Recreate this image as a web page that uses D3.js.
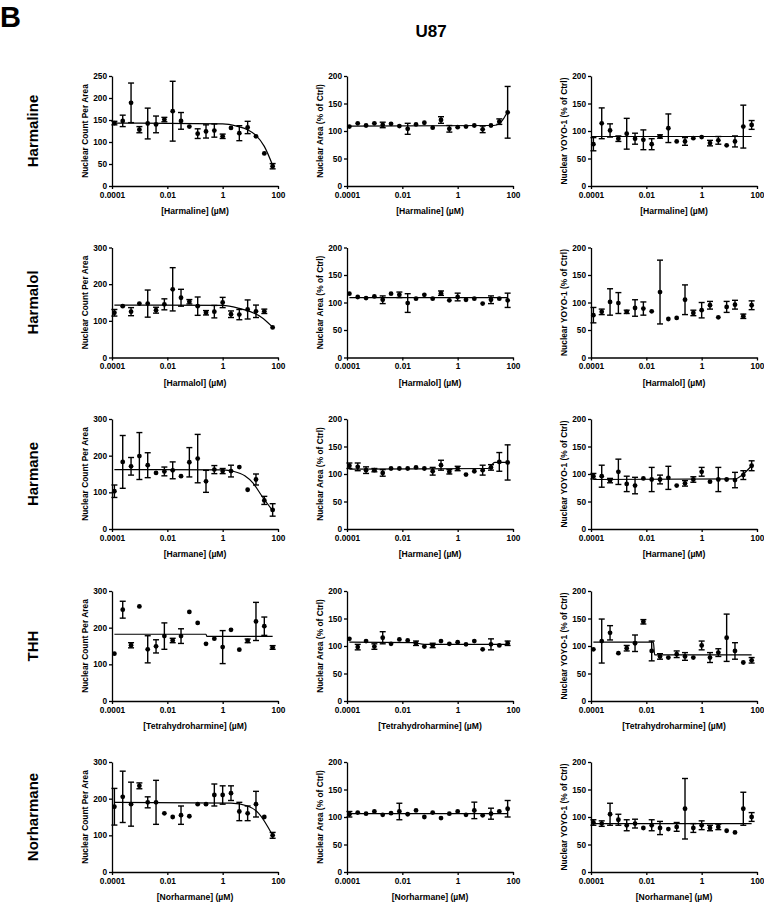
<!DOCTYPE html>
<html>
<head>
<meta charset="utf-8">
<script src="https://cdn.jsdelivr.net/npm/d3@7"></script>
<style>
  body { margin: 0; background: #fff; }
  svg text { font-family: "Liberation Sans", Arial, sans-serif; font-weight: bold; fill: #000; }
</style>
</head>
<body>
<div id="chart"></div>
<script>
// doses (uM), 2-fold dilution series
var doses = [0.0001220703125, 0.000244140625, 0.00048828125, 0.0009765625, 0.001953125,
  0.00390625, 0.0078125, 0.015625, 0.03125, 0.0625, 0.125, 0.25, 0.5, 1, 2, 4, 8, 16, 32, 64];

var compounds = ['Harmaline', 'Harmalol', 'Harmane', 'THH', 'Norharmane'];
var xNames = ['Harmaline', 'Harmalol', 'Harmane', 'Tetrahydroharmine', 'Norharmane'];
var measures = ['Nuclear Count Per Area', 'Nuclear Area (% of Ctrl)', 'Nuclear YOYO-1 (% of Ctrl)'];

var xTickValues = [0.0001, 0.01, 1, 100];
var xTickLabels = ['0.0001', '0.01', '1', '100'];
var countTicks = [[0, 50, 100, 150, 200, 250], [0, 100, 200, 300], [0, 100, 200, 300], [0, 100, 200, 300], [0, 100, 200, 300]];
var pctTicks = [0, 50, 100, 150, 200];

// nuclear count per area, one row per compound
var countMeans = [
  [143, 148, 189, 128, 142, 140, 151, 170, 148, 135, 119, 124, 126, 113, 132, 120, 133, 113, 74, 45],
  [122, 140, 125, 147, 147, 129, 145, 186, 163, 152, 140, 122, 125, 150, 118, 117, 131, 126, 126, 82],
  [103, 183, 171, 199, 174, 153, 157, 160, 144, 182, 192, 130, 162, 158, 158, 169, 107, 135, 78, 52],
  [129, 249, 152, 258, 141, 149, 177, 165, 177, 243, 213, 156, 170, 147, 194, 140, 164, 217, 204, 146],
  [178, 205, 185, 235, 190, 190, 160, 150, 155, 152, 185, 185, 210, 210, 215, 165, 160, 185, 150, 100]
];
var countErrs = [
  [4, 13, 45, 7, 35, 19, 5, 68, 19, 0, 11, 15, 15, 5, 0, 17, 14, 0, 0, 6],
  [9, 0, 11, 0, 37, 8, 15, 59, 23, 6, 25, 6, 17, 14, 9, 14, 26, 17, 6, 0],
  [17, 72, 24, 64, 34, 0, 12, 23, 0, 40, 66, 30, 11, 7, 16, 0, 0, 15, 11, 17],
  [0, 23, 7, 0, 37, 18, 36, 6, 20, 0, 0, 0, 0, 45, 0, 0, 5, 52, 25, 5],
  [50, 70, 60, 8, 15, 60, 0, 0, 25, 0, 0, 0, 30, 25, 20, 25, 20, 35, 0, 8]
];
var countFits = [
  [[0.000122, 143], [1, 141], [3.2, 136], [8, 128], [16, 115], [32, 90], [64, 47]],
  [[0.000122, 143], [1, 142], [4, 134], [10, 125], [25, 110], [64, 83]],
  [[0.000122, 162], [1, 161], [2.5, 157], [6.3, 145], [12.6, 125], [25, 92], [64, 50]],
  [[0.000122, 182], [0.25, 182], [0.27, 176], [64, 176]],
  [[0.000122, 190], [2, 188], [8, 180], [20, 160], [64, 100]]
];

// nuclear area (% of ctrl)
var areaMeans = [
  [108, 114, 110, 114, 111, 113, 109, 104, 112, 115, 106, 120, 104, 107, 108, 110, 103, 110, 117, 134],
  [116, 110, 108, 111, 105, 116, 114, 99, 107, 114, 107, 117, 104, 110, 105, 107, 98, 105, 107, 104],
  [115, 113, 107, 107, 102, 110, 110, 110, 112, 110, 105, 116, 104, 110, 99, 105, 107, 112, 122, 121],
  [113, 98, 109, 99, 115, 104, 112, 110, 105, 99, 101, 109, 104, 107, 103, 109, 94, 103, 101, 105],
  [105, 108, 106, 110, 104, 107, 110, 105, 112, 100, 108, 98, 106, 110, 104, 112, 103, 106, 110, 115]
];
var areaErrs = [
  [0, 0, 0, 0, 5, 0, 0, 10, 0, 0, 0, 6, 6, 0, 0, 0, 6, 0, 5, 47],
  [0, 0, 0, 0, 7, 0, 5, 17, 0, 0, 0, 4, 0, 7, 0, 0, 0, 7, 0, 13],
  [5, 7, 6, 3, 6, 0, 0, 0, 0, 0, 7, 9, 4, 4, 0, 0, 9, 5, 17, 32],
  [0, 5, 0, 5, 11, 0, 0, 0, 4, 0, 4, 0, 0, 0, 0, 0, 0, 10, 0, 4],
  [5, 0, 0, 0, 0, 0, 15, 0, 0, 0, 0, 0, 0, 0, 0, 15, 0, 10, 0, 15]
];
var areaFits = [
  [[0.000122, 109], [20, 110], [32, 113], [45, 122], [64, 135]],
  [[0.000122, 109], [64, 109]],
  [[0.000122, 109], [12.6, 110], [16, 115], [22, 121], [64, 121]],
  [[0.000122, 107], [0.025, 106], [0.063, 103], [64, 103]],
  [[0.000122, 106], [64, 106]]
];

// nuclear YOYO-1 (% of ctrl)
var yoyoMeans = [
  [76, 114, 101, 86, 95, 86, 84, 76, 90, 105, 81, 81, 87, 89, 78, 83, 74, 81, 108, 111],
  [77, 83, 101, 99, 83, 90, 89, 84, 119, 70, 72, 105, 81, 86, 95, 73, 92, 96, 75, 95],
  [96, 96, 88, 104, 82, 79, 92, 90, 90, 93, 79, 83, 90, 104, 86, 90, 90, 89, 98, 115],
  [94, 109, 124, 87, 96, 105, 144, 91, 81, 79, 85, 81, 79, 101, 79, 88, 115, 91, 70, 74],
  [90, 88, 105, 95, 85, 88, 80, 85, 80, 78, 82, 115, 80, 85, 80, 82, 75, 72, 115, 100]
];
var yoyoErrs = [
  [12, 28, 12, 5, 28, 10, 18, 10, 3, 26, 0, 7, 0, 0, 5, 7, 0, 10, 39, 8],
  [14, 5, 24, 19, 3, 15, 12, 0, 58, 0, 0, 27, 5, 14, 7, 0, 10, 8, 4, 8],
  [5, 20, 4, 23, 14, 15, 0, 22, 8, 21, 0, 5, 5, 8, 0, 22, 0, 14, 8, 9],
  [0, 40, 13, 0, 5, 15, 4, 18, 5, 0, 6, 7, 0, 8, 9, 7, 43, 15, 0, 5],
  [5, 5, 20, 10, 10, 8, 0, 10, 12, 0, 8, 55, 8, 8, 5, 5, 0, 0, 30, 8]
];
var yoyoFits = [
  [[0.0001, 90], [64, 90]],
  null,
  [[0.000122, 90], [16, 91], [32, 100], [64, 115]],
  [[0.000122, 107], [0.018, 107], [0.02, 84], [64, 84]],
  [[0.000122, 88], [64, 88]]
];

var panelMeans = [countMeans, areaMeans, yoyoMeans];
var panelErrs = [countErrs, areaErrs, yoyoErrs];
var panelFits = [countFits, areaFits, yoyoFits];

var colX = [112, 347, 591];
var rowY = [76, 247.5, 419, 591, 762];
var plotW = 166, plotH = 110;

var svg = d3.select('#chart').append('svg').attr('width', 764).attr('height', 903);

svg.append('text').attr('x', 0).attr('y', 27).attr('font-size', 29).text('B');
svg.append('text').attr('x', 431).attr('y', 37).attr('text-anchor', 'middle').attr('font-size', 17).text('U87');

var x = d3.scaleLog().domain([0.0001, 100]).range([0, plotW]);

compounds.forEach(function (name, r) {
  svg.append('text')
    .attr('transform', 'translate(38,' + (rowY[r] + plotH / 2) + ') rotate(-90)')
    .attr('text-anchor', 'middle')
    .attr('font-size', 15)
    .text(name);

  measures.forEach(function (m, c) {
    var g = svg.append('g').attr('transform', 'translate(' + colX[c] + ',' + rowY[r] + ')');
    var ticks = c === 0 ? countTicks[r] : pctTicks;
    var y = d3.scaleLinear().domain([0, ticks[ticks.length - 1]]).range([plotH, 0]);

    var yAxis = g.append('g').call(d3.axisLeft(y).tickValues(ticks).tickSize(3).tickSizeOuter(0).tickPadding(2));
    var xAxis = g.append('g').attr('transform', 'translate(0,' + plotH + ')')
      .call(d3.axisBottom(x).tickValues(xTickValues).tickSize(3).tickSizeOuter(0).tickPadding(3)
        .tickFormat(function (d, i) { return xTickLabels[i]; }));
    [yAxis, xAxis].forEach(function (a) {
      a.selectAll('path, line').attr('stroke', '#000').attr('stroke-width', 1.3);
      a.selectAll('text').attr('font-size', 8.3).attr('font-family', null);
    });

    g.append('text')
      .attr('transform', 'translate(-24.5,' + (plotH / 2) + ') rotate(-90)')
      .attr('text-anchor', 'middle')
      .attr('font-size', 8.4)
      .text(m);
    g.append('text')
      .attr('x', plotW / 2).attr('y', plotH + 28)
      .attr('text-anchor', 'middle')
      .attr('font-size', 8.6)
      .text('[' + xNames[r] + '] (\u00b5M)');

    var fit = panelFits[c][r];
    if (fit) {
      g.append('path')
        .attr('d', d3.line().x(function (d) { return x(d[0]); }).y(function (d) { return y(d[1]); }).curve(d3.curveMonotoneX)(fit))
        .attr('fill', 'none').attr('stroke', '#000').attr('stroke-width', 1.2);
    }

    var means = panelMeans[c][r], errs = panelErrs[c][r];
    var pts = doses.map(function (d, i) { return { dose: d, v: means[i], e: errs[i] }; });

    var bars = g.selectAll('.err').data(pts.filter(function (p) { return p.e > 0; })).enter().append('g');
    bars.append('line')
      .attr('x1', function (p) { return x(p.dose); }).attr('x2', function (p) { return x(p.dose); })
      .attr('y1', function (p) { return y(p.v - p.e); }).attr('y2', function (p) { return y(p.v + p.e); });
    bars.append('line')
      .attr('x1', function (p) { return x(p.dose) - 3; }).attr('x2', function (p) { return x(p.dose) + 3; })
      .attr('y1', function (p) { return y(p.v + p.e); }).attr('y2', function (p) { return y(p.v + p.e); });
    bars.append('line')
      .attr('x1', function (p) { return x(p.dose) - 3; }).attr('x2', function (p) { return x(p.dose) + 3; })
      .attr('y1', function (p) { return y(p.v - p.e); }).attr('y2', function (p) { return y(p.v - p.e); });
    bars.selectAll('line').attr('stroke', '#000').attr('stroke-width', 1.4);

    g.selectAll('.pt').data(pts).enter().append('circle')
      .attr('cx', function (p) { return x(p.dose); })
      .attr('cy', function (p) { return y(p.v); })
      .attr('r', 2.4)
      .attr('fill', '#000');
  });
});
</script>
</body>
</html>
